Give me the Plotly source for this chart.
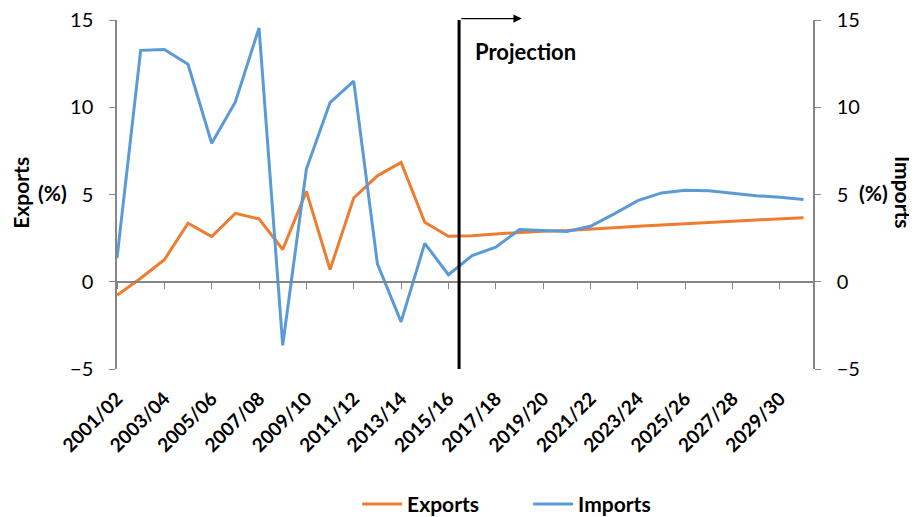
import plotly.graph_objects as go

years = [f"{y}/{str(y+1)[-2:]}" for y in range(2001, 2031)]
exports = [-0.78, 0.2, 1.26, 3.35, 2.59, 3.92, 3.6, 1.85, 5.18, 0.7, 4.8, 6.07, 6.84, 3.41, 2.61,
           2.63, 2.74, 2.83, 2.9, 2.93, 3.03, 3.1, 3.18, 3.26, 3.35, 3.41, 3.47, 3.54, 3.62, 3.67]
imports = [1.35, 13.26, 13.31, 12.46, 7.94, 10.3, 14.55, -3.64, 6.46, 10.27, 11.5, 1.03, -2.3, 2.2, 0.4,
           1.5, 1.98, 2.99, 2.93, 2.88, 3.18, 3.89, 4.65, 5.09, 5.24, 5.22, 5.07, 4.93, 4.84, 4.72]
tick_labels = years[::2]

FONT = "Lato"
AX = "#868686"

fig = go.Figure()
fig.add_trace(go.Scatter(x=years, y=exports, name="Exports", mode="lines",
                         line=dict(color="#ED7D31", width=3), xaxis="x", yaxis="y"))
fig.add_trace(go.Scatter(x=years, y=imports, name="Imports", mode="lines",
                         line=dict(color="#5B9BD5", width=3), xaxis="x", yaxis="y2"))
# invisible trace so the label axis renders
fig.add_trace(go.Scatter(x=years, y=exports, xaxis="x2", yaxis="y", mode="lines",
                         line=dict(width=0), opacity=0, showlegend=False, hoverinfo="skip"))

xr = [0, 29.4]
# page body has an 8px margin, so the figure is 8px smaller and offsets reduced by 8
fig.update_layout(
    width=909, height=509,
    margin=dict(l=109, r=104, t=12, b=148, autoexpand=False),
    paper_bgcolor="white", plot_bgcolor="white",
    font=dict(family=FONT, color="black"),
    showlegend=True,
    legend=dict(orientation="h", x=0.345, xanchor="left", y=-0.388, yanchor="middle",
                font=dict(family=FONT, size=21, color="black", weight="bold"),
                entrywidth=116, entrywidthmode="pixels", itemwidth=40,
                traceorder="normal", bgcolor="rgba(0,0,0,0)"),
    xaxis=dict(type="category", range=xr, anchor="free", position=0.25, automargin=False,
               showline=True, linecolor=AX, linewidth=1.5,
               ticks="outside", ticklen=6, tickcolor=AX, tickwidth=1,
               tickmode="array", tickvals=tick_labels, showticklabels=False,
               showgrid=False, zeroline=False),
    xaxis2=dict(type="category", overlaying="x", matches="x", range=xr, side="bottom",
                anchor="y", showline=False, ticks="", tickmode="array", automargin=False,
                tickvals=tick_labels, ticktext=tick_labels, tickangle=-45,
                ticklabelstandoff=14, ticklabeloverflow="allow",
                tickfont=dict(family=FONT, size=19, color="black", weight="bold"),
                showgrid=False, zeroline=False),
    yaxis=dict(range=[-5, 15], tickvals=[-5, 0, 5, 10, 15], showline=True, linecolor=AX,
               linewidth=1.5, ticks="outside", ticklen=6, tickcolor=AX, automargin=False,
               ticklabelstandoff=12, ticklabeloverflow="allow",
               tickfont=dict(family=FONT, size=20, color="black"),
               showgrid=False, zeroline=False),
    yaxis2=dict(range=[-5, 15], tickvals=[-5, 0, 5, 10, 15], overlaying="y", side="right",
                showline=True, linecolor=AX, linewidth=1.5, ticks="outside", ticklen=6,
                tickcolor=AX, automargin=False, ticklabelstandoff=12, ticklabeloverflow="allow",
                tickfont=dict(family=FONT, size=20, color="black"),
                showgrid=False, zeroline=False),
)

# Projection divider
fig.add_shape(type="line", xref="x", yref="y", x0=14.45, x1=14.45, y0=15.0, y1=-5,
              line=dict(color="black", width=3))
fig.add_annotation(xref="x", yref="paper", x=17.1, y=1.004, ax=-62, ay=0,
                   text="", showarrow=True, arrowhead=2, arrowsize=1.2, arrowwidth=1.4,
                   arrowcolor="black")
fig.add_annotation(xref="x", yref="y", x=15.05, y=13.2, text="Projection", showarrow=False,
                   xanchor="left", yanchor="middle",
                   font=dict(family=FONT, size=22, color="black", weight="bold"))

# Axis titles
tfont = dict(family=FONT, size=21, color="black", weight="bold")
fig.add_annotation(xref="paper", yref="paper", x=-0.139, y=0.5, xanchor="center", yanchor="middle",
                   text="Exports", textangle=-90, showarrow=False, yshift=2, font=tfont)
fig.add_annotation(xref="paper", yref="paper", x=-0.093, y=0.5, xanchor="center", yanchor="middle",
                   text="(%)", showarrow=False, yshift=2, font=tfont)
fig.add_annotation(xref="paper", yref="paper", x=1.087, y=0.5, xanchor="center", yanchor="middle",
                   text="(%)", showarrow=False, yshift=2, font=tfont)
fig.add_annotation(xref="paper", yref="paper", x=1.13, y=0.5, xanchor="center", yanchor="middle",
                   text="Imports", textangle=90, showarrow=False, yshift=2, font=tfont)

fig.write_html("out.html")
